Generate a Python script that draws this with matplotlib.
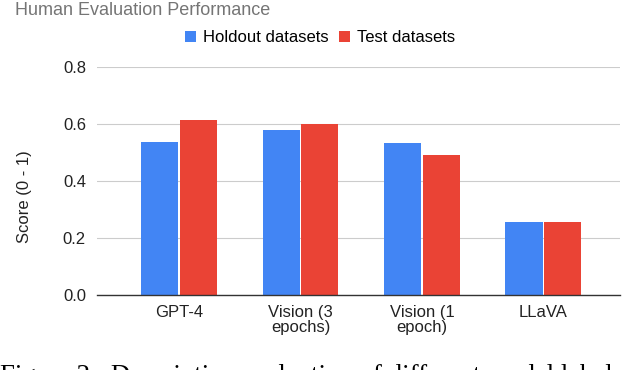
import numpy as np
import matplotlib.pyplot as plt

plt.rcParams['font.family'] = ['Liberation Sans', 'DejaVu Sans']

# data
models = ["GPT-4", "Vision (3\nepochs)", "Vision (1\nepoch)", "LLaVA"]
holdout = [0.538, 0.579, 0.532, 0.257]
test = [0.614, 0.600, 0.490, 0.257]
series_names = ["Holdout datasets", "Test datasets"]
yticks = [0.0, 0.2, 0.4, 0.6, 0.8]

blue = "#4285F4"
red = "#EA4335"
W, H = 626, 370

fig = plt.figure(figsize=(W / 100, H / 100), dpi=100)
ax = fig.add_axes([97 / W, 1 - 295 / H, (620 - 97) / W, (295 - 67) / H])

x = np.arange(len(models))
w = 0.305
ax.bar(x - 0.16, holdout, w, color=blue, label=series_names[0], zorder=3)
ax.bar(x + 0.16, test, w, color=red, label=series_names[1], zorder=3)

ax.set_ylim(0, 0.8)
ax.set_xlim(-0.675, 3.63)
ax.set_yticks(yticks)
ax.set_yticklabels([f"{t:.1f}" for t in yticks], fontsize=12, color="#222222")
ax.set_xticks(x)
ax.set_xticklabels(models, fontsize=12, color="#222222", linespacing=1.0)
ax.tick_params(axis="both", length=0)
ax.tick_params(axis="y", pad=8)
ax.tick_params(axis="x", pad=7)

ax.grid(axis="y", color="#cccccc", linewidth=0.8, zorder=0)
for s in ["top", "right", "left"]:
    ax.spines[s].set_visible(False)
ax.spines["bottom"].set_color("#333333")
ax.spines["bottom"].set_linewidth(1.0)
ax.spines["bottom"].set_zorder(4)

# y label sits a bit below the axes centre in the reference
fig.text(25 / W, 1 - 197 / H, "Score (0 - 1)", rotation=90, fontsize=12,
         color="#222222", ha="center", va="center")

fig.text(15 / W, 1 - 15 / H, "Human Evaluation Performance", fontsize=13,
         color="#757575", va="baseline", ha="left")

fig.legend(loc="center", bbox_to_anchor=(320 / W, 1 - 38 / H), ncol=2,
           frameon=False, fontsize=12, handlelength=0.66, handleheight=0.66,
           handletextpad=0.45, columnspacing=0.6, borderpad=0)

fig.text(0, 1 - 383 / H, "Figure 2:  Descriptive evaluation of different model labels",
         family=["Liberation Serif", "DejaVu Serif"], fontsize=19.4, color="black",
         ha="left", va="baseline")

fig.savefig("out.png", dpi=100)
